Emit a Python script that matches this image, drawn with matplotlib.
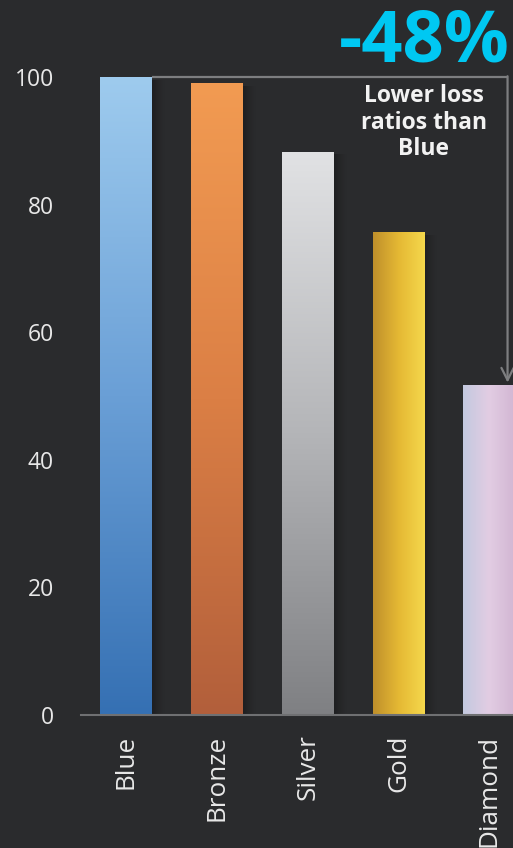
import numpy as np
import matplotlib
matplotlib.use("Agg")
import matplotlib.pyplot as plt
from matplotlib.colors import LinearSegmentedColormap

categories = ["Blue", "Bronze", "Silver", "Gold", "Diamond"]
values = [100, 99, 88.3, 75.7, 51.7]
headline = "-48%"
note = "Lower loss\nratios than\nBlue"

# gradient colours per bar: (direction, colour stops)
grads = [
    ("v", ["#3570B3", "#6A9FD6", "#9ECBEE"]),
    ("v", ["#B25F3B", "#DB7F45", "#F29B52"]),
    ("v", ["#7F8083", "#B4B5B8", "#E1E2E4"]),
    ("h", ["#BF8F2B", "#E5B934", "#F5D84C"]),
    ("h", ["#C3C9DF", "#E2CDE3", "#D2B6D3"]),
]

bg = "#2a2b2d"
plt.rcParams['font.family'] = ['Open Sans', 'DejaVu Sans']

fig = plt.figure(figsize=(5.13, 8.48), dpi=100, facecolor=bg)
ax = fig.add_axes([80.5/513, 133/848, 1 - 80.5/513, 638/848])
ax.set_facecolor(bg)

x = np.arange(len(categories))
w = 0.57
bars = ax.bar(x, values, width=w, color="none", edgecolor="none", zorder=3)

ramp = np.linspace(0, 1, 256)
shade = np.zeros((1, 64, 4))
shade[0, :, 3] = np.linspace(0.38, 0.0, 64) ** 1.3
for i, (b, (d, cols)) in enumerate(zip(bars, grads)):
    x0 = b.get_x()
    h = b.get_height()
    # soft shadow to the right of the bar
    ax.imshow(shade, extent=[x0 + w, x0 + w + 0.14, 0, h - 0.5], origin="lower",
              aspect="auto", zorder=2, interpolation="bilinear")
    cmap = LinearSegmentedColormap.from_list("g%d" % i, cols)
    if d == "v":
        arr = cmap(ramp)[:, None, :]
    else:
        arr = cmap(ramp)[None, :, :]
    im = ax.imshow(arr, extent=[x0, x0 + w, 0, h], origin="lower",
                   aspect="auto", zorder=4, interpolation="bilinear")
    im.set_clip_path(b)

ax.set_xlim(-0.5, 4.26)
ax.set_ylim(0, 100)

for s in ["top", "right", "left"]:
    ax.spines[s].set_visible(False)
ax.spines["bottom"].set_color("#6f7072")
ax.spines["bottom"].set_linewidth(1.5)
ax.spines["bottom"].set_zorder(5)

ax.set_yticks([0, 20, 40, 60, 80, 100])
ax.tick_params(axis="y", length=0, pad=19, labelsize=16.5, labelcolor="#e8e8e8")
ax.set_xticks(x)
ax.set_xticklabels(categories, rotation=90)
ax.tick_params(axis="x", length=0, pad=14, labelsize=18.8, labelcolor="#e8e8e8")

# bracket from Blue to Diamond
lx = 4.2
ax.plot([0.285, lx], [values[0], values[0]], color="#7d7e80", lw=1.6,
        clip_on=False, zorder=5, solid_capstyle="butt")
ax.annotate("", xy=(lx, values[-1] + 0.4), xytext=(lx, values[0] + 0.12),
            arrowprops=dict(arrowstyle="->", color="#7d7e80", lw=1.6,
                            mutation_scale=22, shrinkA=0, shrinkB=0),
            annotation_clip=False, zorder=5)

fig.text(424/513, 1 - 62/848, headline, color="#00c8f2", fontsize=52,
         fontweight="bold", ha="center", va="baseline")
fig.text(424/513, 1 - 84/848, note, color="#f2f2f2", fontsize=16.5,
         fontweight="bold", ha="center", va="top", linespacing=1.15)

fig.savefig("out.png", dpi=100, facecolor=bg)
